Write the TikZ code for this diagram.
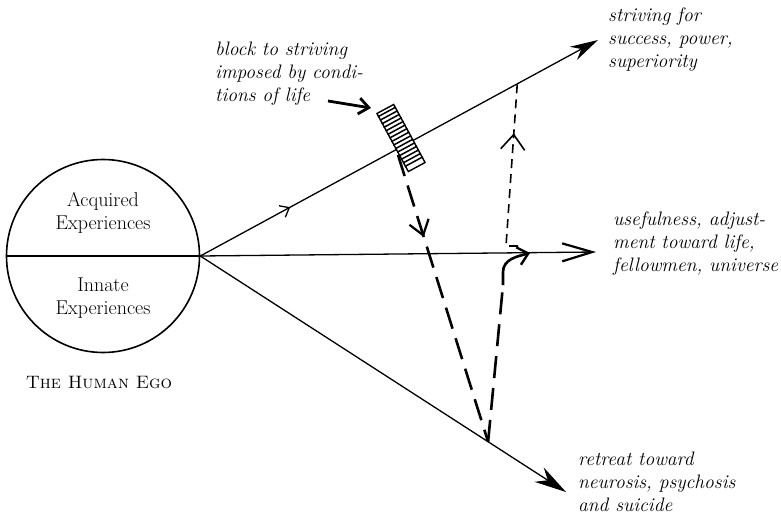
\documentclass[tikz,border=0pt]{standalone}
\usetikzlibrary{arrows.meta,calc,decorations.markings}
\begin{document}
\begin{tikzpicture}[x=1pt,y=-1pt,
        ray/.style={line width=1.3pt},
        dashlong/.style={line width=2.6pt, dash pattern=on 22pt off 10pt},
        dashshort/.style={line width=1.6pt, dash pattern=on 9pt off 6pt},
        note/.style={font=\fontsize{19.5}{23}\selectfont\itshape, align=left, anchor=north west, inner sep=0pt},
        egotext/.style={font=\fontsize{20}{23}\selectfont, align=center, inner sep=0pt},
        tipat/.style 2 args={postaction={decorate}, decoration={markings, mark=at position #1 with {\arrow{#2}}}}
    ]
        \useasboundingbox (0,0) rectangle (781,516);

        % the ego
        \node[circle, draw, line width=1.6pt, minimum size=193pt, inner sep=0pt] (ego) at (103,256) {};
        \draw[line width=1.6pt] (ego.west) -- (ego.east);
        \node[egotext] (acq) at (103,213) {Acquired\\Experiences};
        \node[egotext] (inn) at (103,298) {Innate\\Experiences};
        \node[font=\fontsize{18}{23}\selectfont, anchor=base] (egolabel) at (99,388) {\textsc{The Human Ego}};

        % the three ways
        \coordinate (sup) at (598,40);
        \coordinate (use) at (596,252);
        \coordinate (ret) at (566,492);
        \draw[ray, -{Stealth[length=28pt,width=15pt]}, tipat={0.226}{Straight Barb[length=8pt,width=13pt,line width=1.3pt]}] (ego.east) -- (sup);
        \draw[ray, -{Straight Barb[length=30pt,width=18pt,line width=2.2pt]}] (ego.east) -- (use);
        \draw[ray, -{Stealth[length=32pt,width=17pt]}] (ego.east) -- (ret);

        % the block
        \node[draw, fill=white, line width=1.4pt, rotate=28.4, minimum width=19pt, minimum height=66pt, inner sep=0pt] (blk) at (401,138) {};
        \foreach \t in {0.06,0.12,...,0.95}
            \draw[line width=1.5pt] ($(blk.north west)!\t!(blk.south west)$) -- ($(blk.north east)!\t!(blk.south east)$);

        % detour
        \coordinate (blkfoot) at (398,155);
        \coordinate (bend) at ($(ego.east)!0.787!(ret)$);
        \coordinate (hook) at (503,285);
        \coordinate (meet) at (530,253);
        \coordinate (kick) at (518,246);
        \coordinate (foot) at (506,246);
        \coordinate (apex) at ($(ego.east)!0.797!(sup)$);
        \draw[dashlong, tipat={0.286}{Straight Barb[length=14pt,width=20pt,line width=2.2pt]}] (blkfoot) -- (bend);
        \draw[dashlong] (bend) -- (hook);
        \draw[line width=2.6pt, -{Straight Barb[length=10pt,width=18pt,line width=2.4pt]}] (hook) -- ++(0,-13) to[out=90,in=195] (meet);
        \draw[dashshort, tipat={0.716}{Straight Barb[length=15pt,width=24pt,line width=1.6pt]}] (kick) -- (foot) -- (apex);

        % notes
        \node[note] (blocknote) at (215,41.5) {block to striving\\imposed by condi-\\tions of life};
        \coordinate (notetail) at (328,101);
        \coordinate (notetip) at (371,108);
        \draw[line width=2.8pt, -{Straight Barb[length=10pt,width=16pt]}] (notetail) -- (notetip);
        \node[note] (supnote) at (608,7.5) {striving for\\success, power,\\superiority};
        \node[note] (usenote) at (613,211.5) {usefulness, adjust-\\ment toward life,\\fellowmen, universe};
        \node[note] (retnote) at (578,451.5) {retreat toward\\neurosis, psychosis\\and suicide};
    \end{tikzpicture}
\end{document}
